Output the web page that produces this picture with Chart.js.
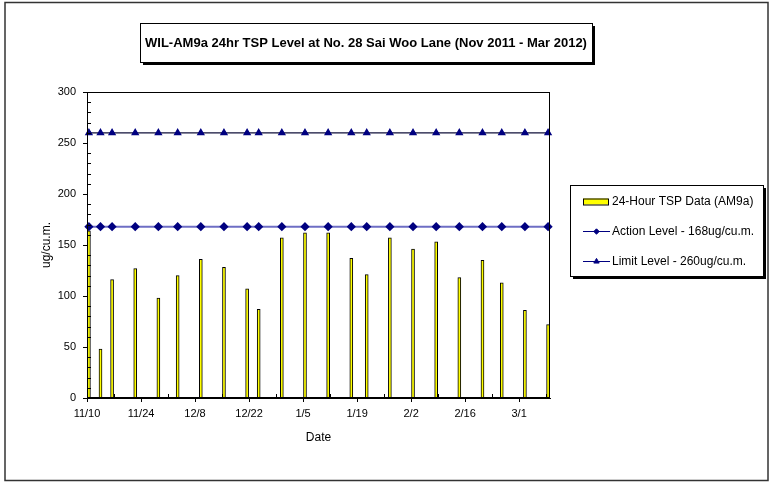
<!DOCTYPE html>
<html>
<head>
<meta charset="utf-8">
<script src="https://cdn.jsdelivr.net/npm/chart.js@4.4.0/dist/chart.umd.min.js"></script>
<style>
    html, body { margin: 0; padding: 0; background: #fff; }
</style>
</head>
<body>
<canvas id="grafica-tsp" width="770" height="482"></canvas>
<script>
const fechas = ['2011-11-10', '2011-11-13', '2011-11-16', '2011-11-22', '2011-11-28', '2011-12-03',
    '2011-12-09', '2011-12-15', '2011-12-21', '2011-12-24', '2011-12-30', '2012-01-05',
    '2012-01-11', '2012-01-17', '2012-01-21', '2012-01-27', '2012-02-02', '2012-02-08',
    '2012-02-14', '2012-02-20', '2012-02-25', '2012-03-02', '2012-03-08'];
const valoresTSP = [164, 48, 116, 127, 98, 120, 136, 128, 107, 87, 157, 162,
    162, 137, 121, 157, 146, 153, 118, 135, 113, 86, 72];
const nivelAccion = 168;
const nivelLimite = 260;

const inicioEje = '2011-11-10';
const diasEje = 120;      // 11/10 .. 3/9
const pasoDias = 14;
const yMax = 300;
const yPaso = 50;

const titulo = 'WIL-AM9a 24hr TSP Level at No. 28 Sai Woo Lane (Nov 2011 - Mar 2012)';
const etiquetas = ['24-Hour TSP Data (AM9a)', 'Action Level - 168ug/cu.m.', 'Limit Level - 260ug/cu.m.'];
const tituloY = 'ug/cu.m.';
const tituloX = 'Date';

const FUENTE = "'Liberation Sans', Arial, sans-serif";
const DIA = 86400000;

function diaDesdeInicio(f) {
    return (Date.parse(f) - Date.parse(inicioEje)) / DIA;
}

function etiquetaFecha(v) {
    const d = new Date(Date.parse(inicioEje) + v * DIA);
    return (d.getUTCMonth() + 1) + '/' + d.getUTCDate();
}

// each 24h sample sits in the middle of its day
const puntosTSP = fechas.map((f, i) => ({ x: diaDesdeInicio(f) + 0.5, y: valoresTSP[i] }));
const puntosAccion = fechas.map(f => ({ x: diaDesdeInicio(f) + 0.5, y: nivelAccion }));
const puntosLimite = fechas.map(f => ({ x: diaDesdeInicio(f) + 0.5, y: nivelLimite }));

function cajaSombra(ctx, x, y, w, h) {
    ctx.fillStyle = '#000';
    ctx.fillRect(x + 3, y + 3, w, h);
    ctx.fillStyle = '#fff';
    ctx.fillRect(x, y, w, h);
    ctx.strokeStyle = '#000';
    ctx.lineWidth = 1;
    ctx.strokeRect(x + 0.5, y + 0.5, w, h);
}

const decorado = {
    id: 'decorado',
    beforeDraw(chart) {
        const ctx = chart.ctx;
        ctx.save();
        ctx.fillStyle = '#fff';
        ctx.fillRect(0, 0, chart.width, chart.height);
        ctx.restore();
    },
    afterDraw(chart) {
        const ctx = chart.ctx;
        const a = chart.chartArea;
        const sx = chart.scales.x;
        const sy = chart.scales.y;
        ctx.save();

        // plot frame
        ctx.strokeStyle = '#000';
        ctx.lineWidth = 1;
        ctx.strokeRect(Math.round(a.left) + 0.5, Math.round(a.top) + 0.5,
            Math.round(a.right - a.left) - 1, Math.round(a.bottom - a.top) - 1);

        // minor ticks, inside
        ctx.beginPath();
        for (let v = 10; v < yMax; v += 10) {
            if (v % yPaso === 0) continue;
            const py = Math.round(sy.getPixelForValue(v)) + 0.5;
            ctx.moveTo(a.left, py);
            ctx.lineTo(a.left + 4, py);
        }
        for (let d = pasoDias / 2; d < diasEje; d += pasoDias) {
            const px = Math.round(sx.getPixelForValue(d)) + 0.5;
            ctx.moveTo(px, a.bottom);
            ctx.lineTo(px, a.bottom - 4);
        }
        ctx.stroke();

        // outer frame
        ctx.strokeStyle = '#333';
        ctx.lineWidth = 1.5;
        ctx.strokeRect(5, 2.5, 763, 478);

        // title
        ctx.font = 'bold 13px ' + FUENTE;
        const tw = ctx.measureText(titulo).width;
        const tx = 366;
        cajaSombra(ctx, Math.round(tx - tw / 2 - 5), 23, Math.round(tw + 10), 39);
        ctx.fillStyle = '#000';
        ctx.textAlign = 'center';
        ctx.textBaseline = 'middle';
        ctx.fillText(titulo, tx, 43);

        // legend
        cajaSombra(ctx, 570, 185, 193, 91);
        const ds = chart.data.datasets;
        const filas = [201.5, 231.5, 261.5];
        ctx.font = '12px ' + FUENTE;
        ctx.textAlign = 'left';
        filas.forEach((fy, i) => {
            const d = ds[i];
            if (d.type === 'bar') {
                ctx.fillStyle = d.backgroundColor;
                ctx.fillRect(583, fy - 3, 25, 6);
                ctx.strokeStyle = '#000';
                ctx.lineWidth = 1;
                ctx.strokeRect(583.5, fy - 2.5, 25, 6);
            } else {
                ctx.strokeStyle = '#000080';
                ctx.lineWidth = 1;
                ctx.beginPath();
                ctx.moveTo(583, fy);
                ctx.lineTo(610, fy);
                ctx.stroke();
                ctx.fillStyle = d.pointBackgroundColor;
                ctx.strokeStyle = d.pointBorderColor;
                Chart.helpers.drawPoint(ctx, {
                    pointStyle: d.pointStyle, radius: d.pointRadius - 0.5, rotation: 0, borderWidth: 1
                }, 596.5, fy);
            }
            ctx.fillStyle = '#000';
            ctx.fillText(etiquetas[i], 612, fy);
        });

        ctx.restore();
    }
};

const datosTSP = {
    datasets: [{
        type: 'bar',
        data: puntosTSP,
        backgroundColor: '#FFFF00',
        borderColor: '#000000',
        borderWidth: 1,
        borderSkipped: 'bottom',
        barThickness: 3,
        order: 2
    }, {
        type: 'line',
        data: puntosAccion,
        borderColor: '#6E6EC4',
        borderWidth: 2,
        pointStyle: 'rectRot',
        pointRadius: 3.2,
        pointBackgroundColor: '#000080',
        pointBorderColor: '#000080',
        clip: false,
        order: 1
    }, {
        type: 'line',
        data: puntosLimite,
        borderColor: '#10103A',
        borderWidth: 1.2,
        pointStyle: 'triangle',
        pointRadius: 3.6,
        pointBackgroundColor: '#000080',
        pointBorderColor: '#000080',
        clip: false,
        order: 0
    }]
};

const opcionesTSP = {
    responsive: false,
    animation: false,
    layout: { padding: { top: 92, right: 220, bottom: 24, left: 0 } },
    plugins: {
        legend: { display: false },
        title: { display: false },
        tooltip: { enabled: false }
    },
    scales: {
        x: {
            type: 'linear',
            min: 0,
            max: diasEje,
            offset: false,
            afterBuildTicks: (s) => { s.ticks = s.ticks.filter(t => t.value % pasoDias === 0); },
            afterFit: (s) => { s.height = 60; },
            ticks: {
                stepSize: pasoDias,
                autoSkip: false,
                maxRotation: 0,
                padding: 5,
                color: '#000',
                font: { family: FUENTE, size: 11 },
                callback: (v) => etiquetaFecha(v)
            },
            grid: { display: true, drawOnChartArea: false, offset: false, tickLength: 4, color: '#000' },
            border: { display: true, color: '#000' },
            title: {
                display: true, text: tituloX, color: '#000',
                font: { family: FUENTE, size: 12 }, padding: { top: 0, bottom: 13 }
            }
        },
        y: {
            min: 0,
            max: yMax,
            afterFit: (s) => { s.width = 87; },
            ticks: {
                stepSize: yPaso,
                padding: 7,
                color: '#000',
                font: { family: FUENTE, size: 11 }
            },
            grid: { display: true, drawOnChartArea: false, tickLength: 4, color: '#000' },
            border: { display: true, color: '#000' },
            title: {
                display: true, text: tituloY, color: '#000',
                font: { family: FUENTE, size: 12 }, padding: { top: 39, bottom: 0 }
            }
        }
    }
};

new Chart(document.getElementById('grafica-tsp'), {
    type: 'bar',
    data: datosTSP,
    options: opcionesTSP,
    plugins: [decorado]
});
</script>
</body>
</html>
